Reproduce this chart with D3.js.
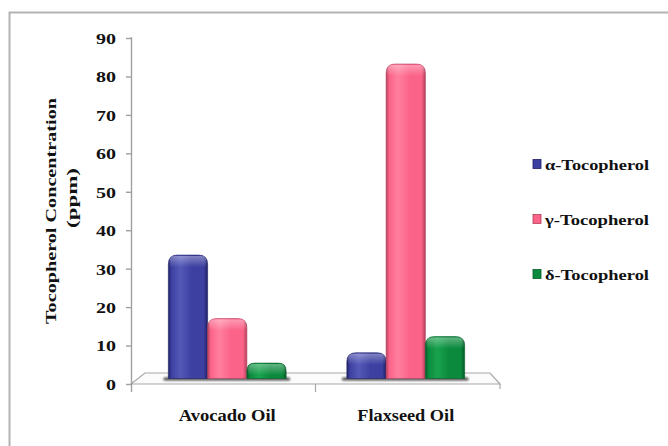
<!DOCTYPE html>
<html>
<head>
<meta charset="utf-8">
<script src="https://cdn.jsdelivr.net/npm/d3@7"></script>
<style>
  html, body { margin: 0; padding: 0; background: #fff; }
  svg { display: block; }
  svg text { font-family: 'Liberation Serif', Tinos, 'Times New Roman', Times, serif !important; font-weight: 700; fill: #111; }
</style>
</head>
<body>
<svg id="chart" width="668" height="446"></svg>
<script>
// Tocopherol content of two oils (ppm)
const categories = ["Avocado Oil", "Flaxseed Oil"];
const seriesNames = ["α-Tocopherol", "γ-Tocopherol", "δ-Tocopherol"];
const alphaValues = [32.1, 6.7];
const gammaValues = [15.6, 81.8];
const deltaValues = [4.0, 10.9];
const yTickValues = [0, 10, 20, 30, 40, 50, 60, 70, 80, 90];
const yTitleLines = ["Tocopherol Concentration", "(ppm)"];

const seriesValues = [alphaValues, gammaValues, deltaValues];
const palette = [
  { edge: "#1e2066", mid: "#3d40a0", light: "#5459b8" },
  { edge: "#b4405c", mid: "#fb6389", light: "#ff7f9f" },
  { edge: "#045c27", mid: "#0b8a3d", light: "#1aa34f" }
];
const serif = "'Liberation Serif', Tinos, 'Times New Roman', Times, serif";

const svg = d3.select("#chart");
const defs = svg.append("defs");

// frame
svg.append("rect").attr("width", 668).attr("height", 446).attr("fill", "#fff");
svg.append("path")
  .attr("d", "M9.5,446 V12.5 H668")
  .attr("fill", "none").attr("stroke", "#b3b3b3").attr("stroke-width", 2);

// scales
const y = d3.scaleLinear().domain([0, 90]).range([384, 38]);
const depth = { dx: 14, dy: 11 };           // floor depth offset
const x = d3.scaleBand().domain(categories)
  .range([138, 495]).paddingInner(0.34).paddingOuter(0.17);
const xs = d3.scaleBand().domain(seriesNames).range([0, x.bandwidth()]);

// floor slab
const y0 = y(0);
const floorPts = [[131, y0], [131 + depth.dx, y0 - depth.dy], [500 - 10, y0 - depth.dy], [500, y0]];
svg.append("polygon")
  .attr("points", floorPts.map(p => p.join(",")).join(" "))
  .attr("fill", "#fbfbfb").attr("stroke", "#a8a8a8").attr("stroke-width", 1.2);
svg.append("line").attr("x1", 500).attr("x2", 500).attr("y1", y0).attr("y2", y0 + 5)
  .attr("stroke", "#a8a8a8").attr("stroke-width", 1.2);
svg.append("line").attr("x1", 315.5).attr("x2", 315.5).attr("y1", y0).attr("y2", y0 + 8)
  .attr("stroke", "#a8a8a8").attr("stroke-width", 1.2);

// value axis
const axis = svg.append("g").attr("transform", "translate(131,0)")
  .call(d3.axisLeft(y).tickValues(yTickValues).tickSize(5).tickPadding(0).tickFormat(d3.format("d")));
axis.attr("font-family", serif);
axis.select(".domain").attr("d", `M-0.5,${y(90)}H0.5V${y0 + 8}`)
  .attr("stroke", "#a0a0a0").attr("stroke-width", 1.4).attr("fill", "none");
axis.selectAll(".tick line").attr("stroke", "#a0a0a0").attr("stroke-width", 1.4);
axis.selectAll(".tick text")
  .attr("x", -15).attr("dy", "0.36em")
  .style("font-size", "15px").style("font-family", serif)
  .attr("textLength", d => String(d).length * 10)
  .attr("lengthAdjust", "spacingAndGlyphs");

// gradients for the rounded-column shading
palette.forEach((c, i) => {
  const g = defs.append("linearGradient").attr("id", "g" + i)
    .attr("x1", 0).attr("x2", 1).attr("y1", 0).attr("y2", 0);
  [[0, c.edge], [0.08, c.mid], [0.3, c.light], [0.6, c.mid], [0.9, c.mid], [1, c.edge]]
    .forEach(([o, col]) => g.append("stop").attr("offset", o).attr("stop-color", col));
});
const hl = defs.append("linearGradient").attr("id", "hl").attr("x1", 0).attr("x2", 0).attr("y1", 0).attr("y2", 1);
hl.append("stop").attr("offset", 0).attr("stop-color", "#fff").attr("stop-opacity", 0.35);
hl.append("stop").attr("offset", 1).attr("stop-color", "#fff").attr("stop-opacity", 0);
const blur = defs.append("filter").attr("id", "soft").attr("x", "-20%").attr("y", "-100%").attr("width", "140%").attr("height", "300%");
blur.append("feGaussianBlur").attr("stdDeviation", 1.2);

const base = y0 - depth.dy / 2;

// soft shadows at the foot of each group
svg.append("g").selectAll("rect").data(categories).join("rect")
  .attr("x", d => x(d) - 5).attr("width", x.bandwidth() + 9)
  .attr("y", base - 1).attr("height", 3).attr("rx", 1.5)
  .attr("fill", "#000").attr("opacity", 0.7).attr("filter", "url(#soft)");

// bars with rounded tops
function barPath(x0, w, top, bottom, r) {
  r = Math.min(r, (bottom - top) / 2, w / 2);
  return `M${x0},${bottom} V${top + r} Q${x0},${top} ${x0 + r},${top} H${x0 + w - r} Q${x0 + w},${top} ${x0 + w},${top + r} V${bottom} Z`;
}
const barData = [];
categories.forEach((cat, ci) => seriesNames.forEach((s, si) => {
  barData.push({ cat, s, si, v: seriesValues[si][ci] });
}));
const bars = svg.append("g");
bars.selectAll("path.bar").data(barData).join("path").attr("class", "bar")
  .attr("d", d => barPath(x(d.cat) + xs(d.s), xs.bandwidth(), y(d.v) - depth.dy / 2, base, 9))
  .attr("fill", d => `url(#g${d.si})`)
  .attr("stroke", d => palette[d.si].edge).attr("stroke-width", 0.6);
bars.selectAll("path.hl").data(barData).join("path").attr("class", "hl")
  .attr("d", d => {
    const top = y(d.v) - depth.dy / 2;
    return barPath(x(d.cat) + xs(d.s) + 1, xs.bandwidth() - 2, top + 1, Math.min(top + 12, base), 8);
  })
  .attr("fill", "url(#hl)");

// category labels
svg.append("g").selectAll("text").data(categories).join("text")
  .attr("x", d => x(d) + x.bandwidth() / 2).attr("y", 421)
  .attr("text-anchor", "middle").style("font-size", "16px").style("font-family", serif)
  .attr("textLength", 97).attr("lengthAdjust", "spacingAndGlyphs")
  .text(d => d);

// value axis title
const titleSpec = [
  { text: yTitleLines[0], bx: 56, cy: 211, len: 226 },
  { text: yTitleLines[1], bx: 77, cy: 198, len: 60 }
];
svg.append("g").selectAll("text").data(titleSpec).join("text")
  .attr("transform", d => `translate(${d.bx},${d.cy}) rotate(-90)`)
  .attr("text-anchor", "middle").style("font-size", "15px").style("font-family", serif)
  .attr("textLength", d => d.len).attr("lengthAdjust", "spacingAndGlyphs")
  .text(d => d.text);

// legend
const legend = svg.append("g").selectAll("g").data(seriesNames).join("g")
  .attr("transform", (d, i) => `translate(533,${164 + i * 55})`);
legend.append("rect").attr("x", 0).attr("y", -4.5).attr("width", 8).attr("height", 9)
  .attr("fill", (d, i) => palette[i].mid).attr("stroke", (d, i) => palette[i].edge).attr("stroke-width", 0.8);
legend.append("text").attr("x", 12).attr("y", 6)
  .style("font-size", "15px").style("font-family", serif)
  .attr("textLength", 104).attr("lengthAdjust", "spacingAndGlyphs")
  .text(d => d);
</script>
</body>
</html>
